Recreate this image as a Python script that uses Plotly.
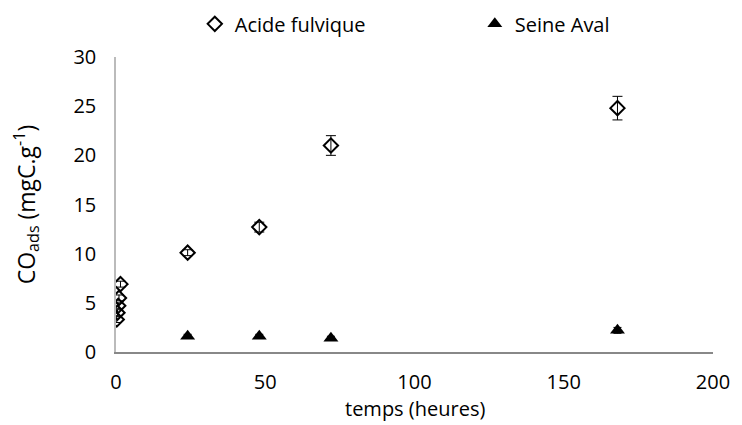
import plotly.graph_objects as go

# Acide fulvique
t_af = [0.25, 0.5, 0.75, 1, 1.5, 24, 48, 72, 168]
co_af = [3.3, 4.0, 4.7, 5.5, 6.9, 10.1, 12.7, 21.0, 24.8]
err_af = [0.3, 0.3, 0.3, 0.3, 0.3, 0.3, 0.5, 1.0, 1.2]

# Seine Aval
t_sa = [24, 48, 72, 168]
co_sa = [1.6, 1.6, 1.4, 2.2]
err_sa = [0.2, 0.2, 0.2, 0.3]

police = "Open Sans"

trace_af = go.Scatter(
    x=t_af, y=co_af,
    name="Acide fulvique",
    mode="markers",
    legend="legend",
    error_y=dict(type="data", array=err_af, color="black", thickness=1, width=5),
    marker=dict(symbol="diamond-open", size=11, color="black", line=dict(width=2, color="black")),
)

trace_sa = go.Scatter(
    x=t_sa, y=co_sa,
    name="Seine Aval",
    mode="markers",
    legend="legend2",
    error_y=dict(type="data", array=err_sa, color="black", thickness=1, width=4),
    marker=dict(symbol="triangle-up", size=13, color="black"),
)

# la page ajoute ~8 px de marge autour de la figure
layout = go.Layout(
    width=734, height=417,
    paper_bgcolor="white", plot_bgcolor="white",
    margin=dict(l=108, r=29, t=49, b=73, autoexpand=False),
    font=dict(family=police, size=20, color="black"),
    showlegend=True,
    legend=dict(orientation="h", x=0.132, xanchor="left", y=0.962, yanchor="middle",
                yref="container", font=dict(size=20), itemwidth=30),
    legend2=dict(orientation="h", x=0.601, xanchor="left", y=0.962, yanchor="middle",
                 yref="container", font=dict(size=20), itemwidth=30),
    xaxis=dict(
        range=[0, 200], tickvals=[0, 50, 100, 150, 200],
        showgrid=False, zeroline=False,
        showline=True, linecolor="#888888", linewidth=1.5,
        ticks="", ticklabelstandoff=11, automargin=False,
    ),
    yaxis=dict(
        range=[0, 30], tickvals=[0, 5, 10, 15, 20, 25, 30],
        showgrid=False, zeroline=False,
        showline=True, linecolor="#bbbbbb", linewidth=1.5,
        ticks="", ticklabelstandoff=14, automargin=False,
        title=dict(text="CO<sub>ads</sub> (mgC.g<sup>-1</sup>)", font=dict(size=23), standoff=36),
    ),
    annotations=[dict(
        text="temps (heures)", x=0.5, y=-0.19, xref="paper", yref="paper",
        xanchor="center", yanchor="middle", showarrow=False, font=dict(size=20),
    )],
)

fig = go.Figure(data=[trace_af, trace_sa], layout=layout)
fig.write_html("out.html")
